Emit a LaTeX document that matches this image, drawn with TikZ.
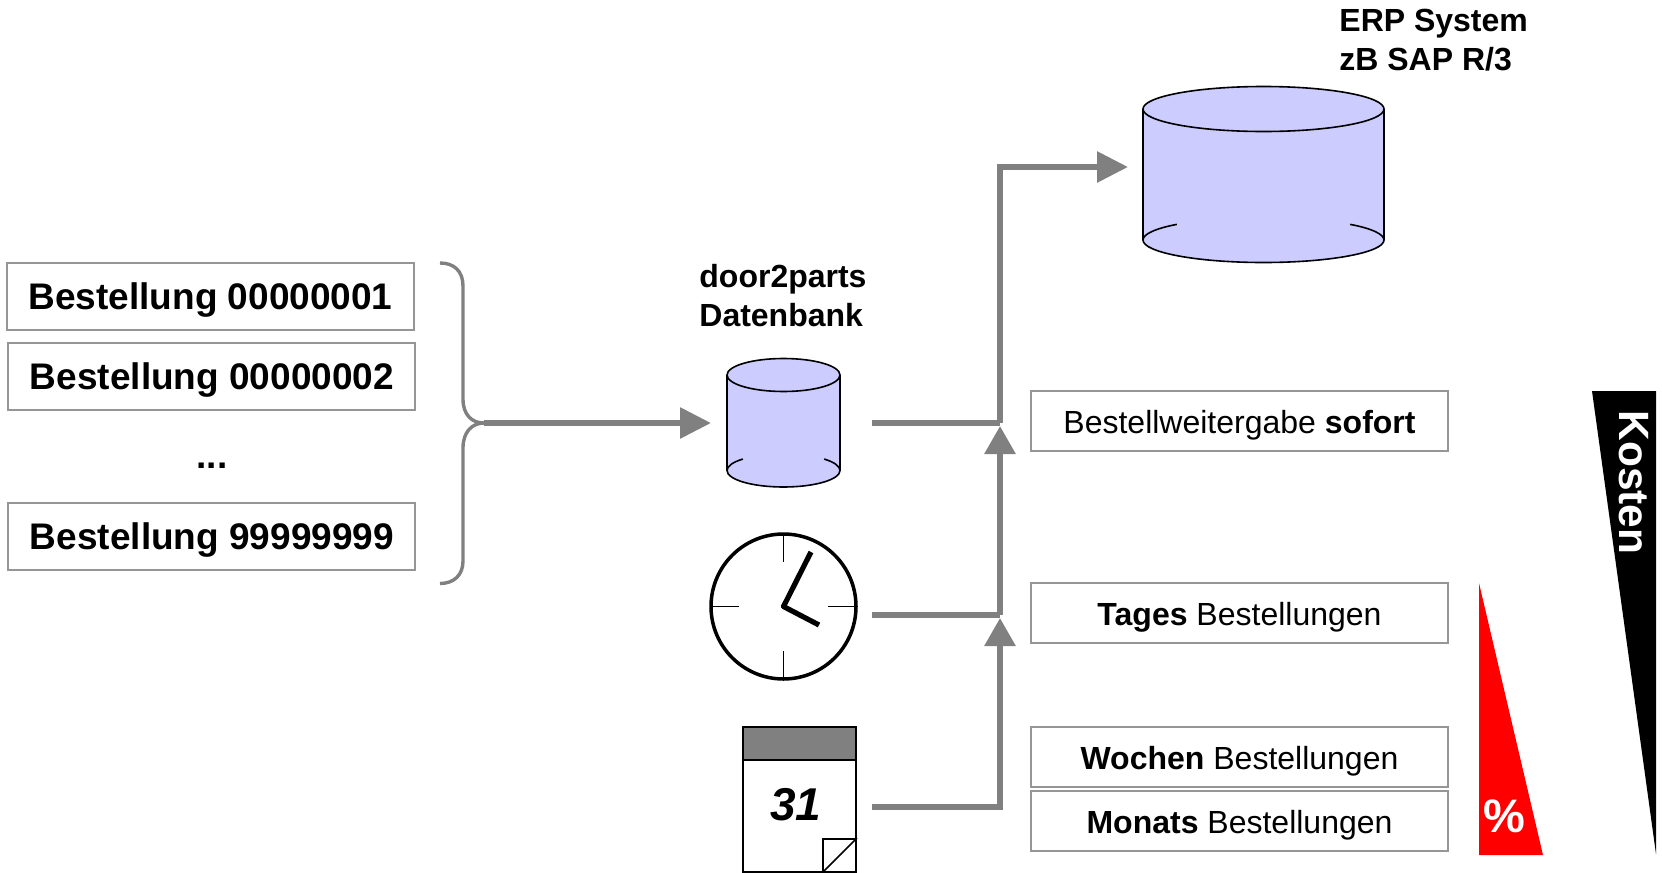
\documentclass[tikz,border=0pt]{standalone}
\usepackage{fontspec}
\setmainfont{Liberation Sans}
\usetikzlibrary{arrows.meta}
\definecolor{conncol}{HTML}{808080}
\definecolor{edgecol}{HTML}{969696}
\definecolor{dbfill}{HTML}{CCCCFF}
\newcommand{\dbcyl}[5]{% cx, ytop, ybottom, rx(pt), ry(pt)
  \fill[dbfill] (#1,#2) ++(-#4pt,0) -- ++(0,{(#2-#3)*0.5pt}) arc[start angle=180,end angle=360,x radius=#4pt,y radius=#5pt] -- ++(0,{(#3-#2)*0.5pt}) arc[start angle=0,end angle=180,x radius=#4pt,y radius=#5pt] -- cycle;
  \draw[cylline] (#1,#2) ++(-#4pt,0) -- ++(0,{(#2-#3)*0.5pt}) arc[start angle=180,end angle=360,x radius=#4pt,y radius=#5pt] -- ++(0,{(#3-#2)*0.5pt});
  \draw[cylline] (#1,#2) ellipse[x radius=#4pt,y radius=#5pt];
  \draw[cylline] (#1,#3) ++(-#4pt,0) arc[start angle=180,end angle=136,x radius=#4pt,y radius=#5pt];
  \draw[cylline] (#1,#3) ++(#4pt,0) arc[start angle=0,end angle=44,x radius=#4pt,y radius=#5pt];
}
\tikzset{
  cylline/.style={black,line width=0.8pt},
  orderbox/.style={draw=edgecol,line width=1pt,fill=white,inner sep=0pt,minimum width=203.5pt,minimum height=33.5pt,font=\fontsize{18.5}{22}\bfseries\selectfont,text height=12.5pt,text depth=0pt},
  infobox/.style={draw=edgecol,line width=1pt,fill=white,inner sep=0pt,minimum width=208.5pt,minimum height=30pt,font=\fontsize{16}{19}\selectfont,text height=12pt,text depth=0pt},
  headtext/.style={font=\fontsize{16}{19.5}\bfseries\selectfont,align=left,inner sep=0pt},
  connline/.style={conncol,line width=3pt},
  flow/.style={conncol,line width=3pt,-{Triangle[length=14pt,width=15pt]}},
  flowh/.style={conncol,line width=3pt,-{Triangle[length=15.5pt,width=15pt]}},
  bracket/.style={conncol,line width=1.7pt},
  clocktick/.style={black,line width=0.65pt},
  clockhand/.style={black,line width=2.6pt,line cap=butt,line join=round},
  calbox/.style={draw=black,line width=1pt,inner sep=0pt}
}
\begin{document}
\begin{tikzpicture}[x=0.5pt,y=-0.5pt]
\useasboundingbox (0,0) rectangle (1662,873);
% orders
\node[orderbox] (o1) at (210.5,296.5) {Bestellung 00000001};
\node[orderbox] (o2) at (211.5,376.5) {\hspace{0.5pt}Bestellung 00000002};
\node[font=\fontsize{18.5}{22}\bfseries\selectfont,inner sep=0pt,anchor=base] (odots) at (212,468) {...};
\node[orderbox] (o9) at (211.5,536.5) {\hspace{0.5pt}Bestellung 99999999};
% brace
\coordinate (brT) at (440,263);
\coordinate (brB) at (440,583.5);
\coordinate (brM) at (484,423);
\coordinate (dbin) at (711,423);
\draw[bracket] (brT) .. controls (454,263) and (463,271) .. (463,286) -- (463,399) .. controls (463,415) and (472,423) .. (brM);
\draw[bracket] (brM) .. controls (472,423) and (463,432) .. (463,448) -- (463,561) .. controls (463,575) and (454,583.5) .. (brB);
\draw[flowh] (brM) -- (dbin);
% cylinders
\dbcyl{783.5}{375}{470.5}{28.25}{8.25}
\dbcyl{1263.5}{109}{240}{60.25}{11.25}
\node[headtext,anchor=base west] (dbl1) at (699,287) {door2parts};
\node[headtext,anchor=base west] (dbl2) at (699,326) {Datenbank};
\node[headtext,anchor=base west] (erp1) at (1339,31) {ERP System};
\node[headtext,anchor=base west] (erp2) at (1339,70) {zB SAP R/3};
% clock
\node[draw=black,line width=1.75pt,circle,minimum size=72.5pt,inner sep=0pt] (clock) at (783.5,606.5) {};
\draw[clocktick] (783.5,535) -- (783.5,562);
\draw[clocktick] (783.5,651) -- (783.5,678);
\draw[clocktick] (712,606.5) -- (739,606.5);
\draw[clocktick] (828,606.5) -- (854,606.5);
\draw[clockhand] (811,552) -- (clock.center) -- (819,625);
% calendar
\node[calbox,minimum width=56.5pt,minimum height=72.5pt] (cal) at (799.5,799.5) {};
\node[calbox,fill=conncol,minimum width=56.5pt,minimum height=16.5pt] (calh) at (799.5,743.5) {};
\node[calbox,minimum width=16.5pt,minimum height=16.5pt] (calc) at (839.5,855.5) {};
\draw[line width=0.8pt] (calc.south west) -- (calc.north east);
\node[inner sep=0pt,font=\fontsize{23}{26}\bfseries\itshape\selectfont,anchor=base] (cal31) at (796,820) {31};
% connectors
\coordinate (d1) at (872,423);
\coordinate (d2) at (872,615);
\coordinate (d3) at (872,807);
\coordinate (j1) at (1000,423);
\coordinate (j2) at (1000,615);
\coordinate (j3) at (1000,807);
\coordinate (t1) at (1000,426);
\coordinate (t2) at (1000,618);
\coordinate (bend) at (1000,167);
\coordinate (erpin) at (1128,167);
\draw[connline] (d1) -- (j1);
\draw[connline] (d2) -- (j2);
\draw[flow,line join=miter] (d3) -- (j3) -- (t2);
\draw[flow] (j2) -- (t1);
\draw[flowh,line join=miter] (j1) -- (bend) -- (erpin);
% right boxes
\node[infobox] (b1) at (1239.5,421) {Bestellweitergabe \textbf{sofort}};
\node[infobox] (b2) at (1239.5,613) {\textbf{Tages} Bestellungen};
\node[infobox] (b3) at (1239.5,757) {\textbf{Wochen} Bestellungen};
\node[infobox] (b4) at (1239.5,821) {\textbf{Monats} Bestellungen};
% wedges
\fill[red] (1479,583) -- (1479,855) -- (1543,855) -- cycle;
\node[text=white,inner sep=0pt,font=\fontsize{23.5}{28}\bfseries\selectfont,anchor=base] (pct) at (1504,832) {\%};
\fill[black] (1592,391) -- (1656,391) -- (1656,854) -- cycle;
\node[text=white,inner sep=0pt,font=\fontsize{21.2}{25}\bfseries\selectfont,rotate=-90,anchor=base] (kosten) at (1619,482.5) {Kosten};
\end{tikzpicture}
\end{document}
